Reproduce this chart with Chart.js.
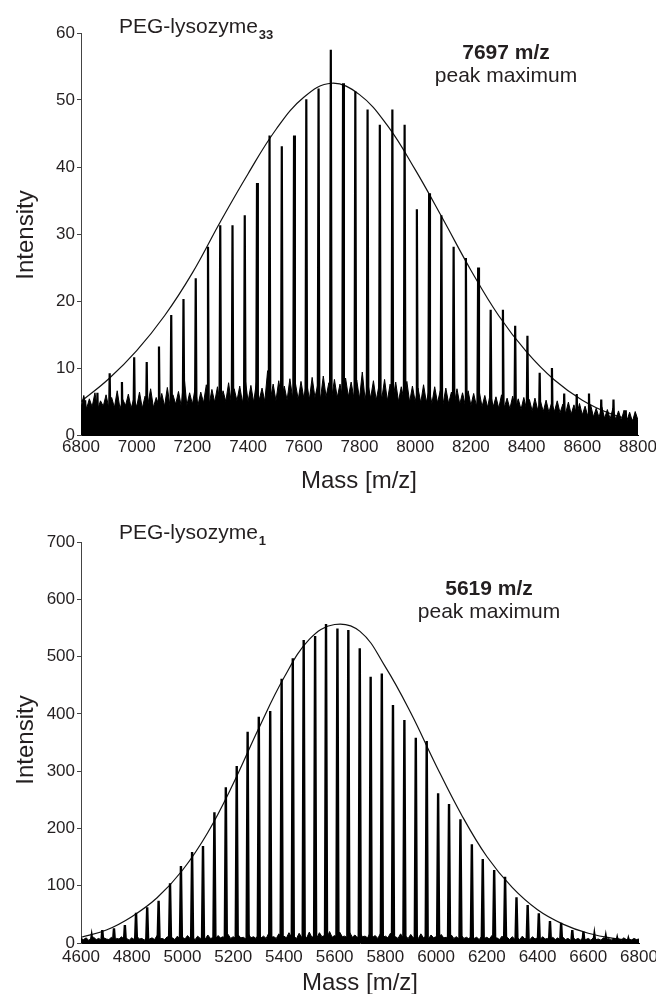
<!DOCTYPE html>
<html lang="en">
<head>
<meta charset="UTF-8">
<title>PEG-lysozyme spectra</title>
<script src="https://cdn.jsdelivr.net/npm/chart.js"></script>
<style>
  body { margin: 0; background: #fff; }
  canvas { display: block; }
</style>
</head>
<body>
<canvas id="topChart" width="656" height="497"></canvas>
<canvas id="bottomChart" width="656" height="497"></canvas>
<script>
// ---- PEG-lysozyme33 (top panel) ----
const topPeakMass = [6815, 6859, 6903, 6947, 6991, 7036, 7080, 7124, 7168, 7212, 7256, 7300, 7344, 7388, 7432,
  7477, 7521, 7565, 7609, 7653, 7697, 7741, 7785, 7829, 7873, 7918, 7962, 8006, 8050, 8094,
  8138, 8182, 8226, 8271, 8315, 8359, 8403, 8447, 8491, 8535, 8580, 8624, 8668, 8712, 8756];
const topPeakHeight = [5.2, 6.3, 9.2, 7.9, 11.6, 10.9, 13.2, 17.9, 20.3, 23.4, 28.1, 31.3, 31.3, 32.8, 37.6,
  44.7, 43.1, 44.7, 50.1, 51.7, 57.5, 52.5, 51.3, 48.6, 46.3, 48.6, 46.3, 33.7, 36.1, 32.8,
  28.1, 26.4, 25.0, 18.7, 18.7, 16.3, 14.8, 9.3, 10.0, 6.2, 6.1, 6.2, 5.3, 5.3, 3.7];
const topFitMass = [6800, 6900, 7000, 7100, 7200, 7300, 7400, 7500, 7600, 7700, 7800,
  7900, 8000, 8100, 8200, 8300, 8400, 8500, 8600, 8700, 8800];
const topFitValue = [5.0, 8.4, 12.6, 17.8, 24.2, 31.8, 39.0, 45.6, 50.4, 52.5, 50.8,
  46.2, 39.6, 32.2, 24.6, 17.8, 12.4, 8.2, 5.2, 3.2, 2.0];
// baseline noise, one reading every 10 m/z from 6800
const topNoiseStart = 6800;
const topNoise = [
  4.0, 5.9, 3.9, 5.4, 4.2, 6.3, 3.8, 5.1, 4.3, 6.0, 4.0, 5.6, 4.1, 6.6, 3.9, 5.3, 4.4, 6.1, 4.0, 5.5,
  4.2, 6.4, 4.0, 5.8, 4.5, 6.9, 4.1, 5.6, 4.4, 6.2, 4.3, 7.1, 4.2, 6.0, 4.6, 6.5, 4.3, 8.9, 4.4, 6.3,
  4.6, 7.0, 4.4, 6.4, 4.8, 7.5, 4.5, 6.8, 4.9, 7.2, 4.6, 6.6, 5.0, 7.8, 4.7, 6.9, 5.1, 7.3, 4.8, 8.2,
  5.0, 7.4, 4.9, 7.9, 5.2, 7.0, 5.0, 9.6, 5.3, 7.6, 5.1, 8.1, 5.4, 7.3, 5.2, 8.4, 5.5, 7.7, 5.3, 8.0,
  5.5, 7.9, 5.3, 8.6, 5.6, 7.5, 5.4, 8.8, 5.7, 7.8, 5.5, 8.3, 5.6, 7.6, 5.4, 8.5, 5.7, 7.9, 5.5, 8.2,
  5.4, 9.4, 5.3, 7.7, 5.5, 8.1, 5.2, 7.4, 5.4, 8.3, 5.1, 7.6, 5.3, 7.9, 5.0, 7.2, 5.2, 8.0, 4.9, 7.3,
  5.0, 7.0, 4.8, 7.5, 4.9, 6.8, 4.7, 7.2, 4.8, 6.6, 4.6, 7.0, 4.7, 6.4, 4.5, 6.9, 4.6, 6.3, 4.4, 6.6,
  4.4, 6.2, 4.3, 6.5, 4.2, 5.9, 4.1, 6.3, 4.2, 5.7, 4.0, 6.0, 4.1, 5.5, 3.9, 5.8, 4.0, 5.4, 3.8, 5.6,
  3.8, 5.3, 3.6, 5.5, 3.7, 5.0, 3.5, 5.2, 3.4, 4.8, 3.5, 5.1, 3.3, 4.6, 3.2, 4.9, 3.1, 4.5, 3.0, 4.7,
  3.0, 4.3, 2.8, 4.5, 2.7, 4.0, 2.6, 4.2, 2.5, 3.8, 2.4, 4.0, 2.3, 3.6, 2.2, 3.7, 2.1, 3.4, 2.0, 3.5,
  2.2];

// ---- PEG-lysozyme1 (bottom panel) ----
const botPeakMass = [4642, 4684, 4730, 4773, 4817, 4861, 4906, 4951, 4994, 5038, 5081, 5126, 5171, 5214, 5257,
  5301, 5346, 5391, 5435, 5478, 5523, 5566, 5611, 5654, 5699, 5742, 5786, 5830, 5875, 5920,
  5963, 6008, 6051, 6096, 6141, 6184, 6229, 6272, 6317, 6361, 6405, 6449, 6493, 6537, 6581,
  6624, 6669, 6714, 6758];
const botPeakHeight = [12, 22.7, 25.6, 31.4, 52.9, 62.3, 73.9, 104.2, 134.4, 158.8, 169.3, 228.1, 271.7, 309, 368.9,
  395, 405, 461.4, 496.9, 528.9, 535.9, 556.8, 549.2, 546.3, 514.4, 464.8, 470.6, 415.4, 389.2, 358.4,
  352.6, 261.3, 242.6, 215.9, 172.3, 146.6, 127.4, 115.7, 79.8, 66.3, 51.8, 38.4, 35.4, 22.7, 19.7,
  14, 11, 8.1, 7];
const botFitMass = [4600, 4700, 4800, 4900, 5000, 5100, 5200, 5300, 5400, 5500, 5600, 5700,
  5800, 5900, 6000, 6100, 6200, 6300, 6400, 6500, 6600, 6700, 6800];
const botFitValue = [10, 22.7, 46, 79, 127, 193, 278, 374, 463, 530, 556, 544,
  482, 402, 310, 224, 151, 97, 58, 33, 17, 8.2, 4];
const botNoiseStart = 4600;
const botNoise = [
  8, 6, 9, 5, 7, 10, 6, 8, 5, 9, 7, 6, 10, 5, 8, 7, 11, 6, 8, 5,
  9, 6, 12, 7, 8, 5, 10, 7, 9, 6, 13, 7, 8, 6, 11, 8, 9, 6, 12, 7,
  10, 7, 13, 8, 9, 6, 12, 8, 10, 7, 14, 8, 9, 7, 13, 9, 11, 7, 15, 8,
  11, 8, 14, 9, 10, 7, 16, 9, 11, 8, 15, 9, 12, 8, 17, 10, 11, 8, 16, 9,
  12, 9, 18, 10, 11, 8, 17, 10, 13, 9, 19, 10, 12, 9, 18, 11, 13, 9, 20, 10,
  13, 10, 19, 11, 12, 9, 18, 10, 14, 9, 17, 11, 12, 9, 18, 10, 13, 8, 16, 10,
  12, 9, 17, 10, 11, 8, 16, 9, 12, 8, 15, 9, 11, 8, 16, 9, 12, 7, 14, 9,
  11, 8, 15, 9, 10, 7, 14, 8, 11, 7, 13, 8, 10, 7, 14, 8, 10, 6, 12, 8,
  10, 7, 13, 8, 9, 6, 12, 7, 10, 6, 11, 7, 9, 6, 12, 7, 9, 6, 11, 7,
  9, 6, 11, 7, 8, 5, 10, 6, 9, 5, 10, 6, 8, 5, 9, 6, 8, 5, 10, 6,
  8, 5, 9, 6, 7, 5, 9, 6, 8, 5, 8, 6, 7, 5, 9, 6, 7, 5, 8, 6,
  7];
const noiseStep = 10;

const FONT = "'Liberation Sans', Arial, sans-serif";
const INK = '#231f20';

function spikes(masses, heights, half) {
  const pts = [];
  masses.forEach((m, i) => {
    pts.push({ x: m - half, y: 0 }, { x: m, y: heights[i] }, { x: m + half, y: 0 });
  });
  return pts;
}

function pairs(xs, ys) {
  return xs.map((x, i) => ({ x: x, y: ys[i] }));
}

function noisePts(start, vals) {
  return vals.map((v, i) => ({ x: start + i * noiseStep, y: v }));
}

// titles, peak label and axis names
const labelPlugin = {
  id: 'specLabels',
  afterDraw(chart) {
    const o = chart.options.plugins.specLabels;
    const ctx = chart.ctx;
    ctx.save();
    ctx.fillStyle = INK;
    ctx.textBaseline = 'alphabetic';

    ctx.textAlign = 'left';
    ctx.font = '21px ' + FONT;
    ctx.fillText('PEG-lysozyme', o.nameX, o.nameY);
    const w = ctx.measureText('PEG-lysozyme').width;
    ctx.font = 'bold 13px ' + FONT;
    ctx.fillText(o.sub, o.nameX + w + 1, o.nameY + 6);

    ctx.textAlign = 'center';
    ctx.font = 'bold 21px ' + FONT;
    ctx.fillText(o.peak + ' m/z', o.peakX, o.peakY);
    ctx.font = '21px ' + FONT;
    ctx.fillText('peak maximum', o.peakX, o.peakY + 23);

    ctx.font = '24px ' + FONT;
    ctx.fillText('Mass [m/z]', o.massX, o.massY);

    ctx.translate(o.intX, o.intY);
    ctx.rotate(-Math.PI / 2);
    ctx.fillText('Intensity', 0, 0);
    ctx.restore();
  }
};

function makeChart(id, cfg) {
  new Chart(document.getElementById(id), {
    type: 'scatter',
    data: {
      datasets: [
        { data: cfg.noise, showLine: true, borderColor: '#000', backgroundColor: '#000',
          borderWidth: 1, fill: 'origin', pointRadius: 0 },
        { data: cfg.peaks, showLine: true, borderColor: '#000', borderWidth: cfg.spikeWidth,
          pointRadius: 0 },
        { data: cfg.fit, showLine: true, borderColor: '#111', borderWidth: 1.2,
          pointRadius: 0, tension: 0.4 }
      ]
    },
    options: {
      responsive: false,
      animation: false,
      layout: { padding: { top: cfg.top, right: cfg.right, left: 0, bottom: 0 } },
      plugins: {
        legend: { display: false },
        tooltip: { enabled: false },
        specLabels: cfg.labels
      },
      scales: {
        x: {
          type: 'linear', min: cfg.xMin, max: cfg.xMax,
          ticks: { stepSize: 200, maxRotation: 0, autoSkip: false, padding: cfg.xPad,
                   color: INK, font: { family: FONT, size: 17 }, callback: v => String(v) },
          grid: { display: false, drawTicks: false, tickLength: 0 },
          border: { display: true, color: '#000' },
          afterFit: s => { s.height = cfg.xHeight; s.paddingLeft = 0; s.paddingRight = 0; }
        },
        y: {
          min: 0, max: cfg.yMax,
          ticks: { stepSize: cfg.yStep, padding: 2, color: INK, font: { family: FONT, size: 17 },
                   callback: v => String(v) },
          grid: { drawOnChartArea: false, tickLength: 4, color: '#444' },
          border: { color: '#444' },
          afterFit: s => { s.width = 81; }
        }
      }
    },
    plugins: [labelPlugin]
  });
}

makeChart('topChart', {
  noise: noisePts(topNoiseStart, topNoise),
  peaks: spikes(topPeakMass, topPeakHeight, 3),
  fit: pairs(topFitMass, topFitValue),
  spikeWidth: 2.2,
  xMin: 6800, xMax: 8800, yMax: 60, yStep: 10,
  top: 33, right: 18, xHeight: 62, xPad: 2,
  labels: { nameX: 119, nameY: 33, sub: '33', peak: '7697', peakX: 506, peakY: 59,
            massX: 359, massY: 488, intX: 33, intY: 235 }
});

makeChart('bottomChart', {
  noise: noisePts(botNoiseStart, botNoise),
  peaks: spikes(botPeakMass, botPeakHeight, 4),
  fit: pairs(botFitMass, botFitValue),
  spikeWidth: 2.4,
  xMin: 4600, xMax: 6800, yMax: 700, yStep: 100,
  top: 45, right: 17, xHeight: 51, xPad: 4,
  labels: { nameX: 119, nameY: 42, sub: '1', peak: '5619', peakX: 489, peakY: 98,
            massX: 360, massY: 493, intX: 33, intY: 243 }
});
</script>
</body>
</html>
